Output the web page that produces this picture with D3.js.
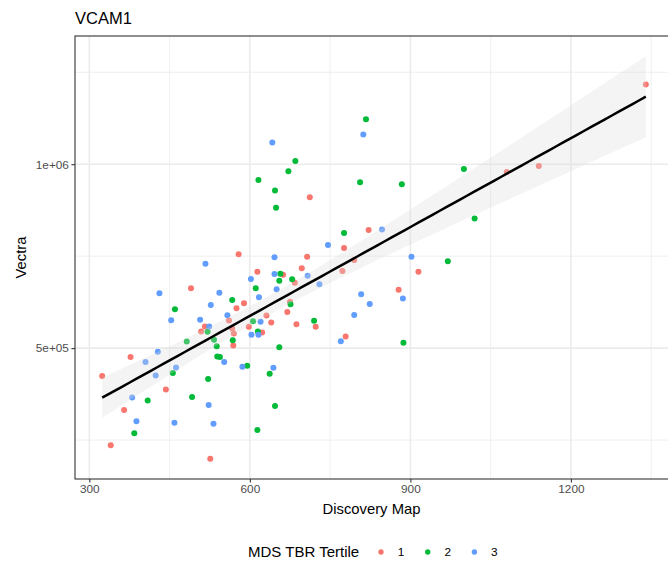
<!DOCTYPE html>
<html>
<head>
<meta charset="utf-8">
<script src="https://cdn.jsdelivr.net/npm/d3@7/dist/d3.min.js"></script>
<style>
	body { margin: 0; background: #fff; }
	text { font-family: "Liberation Sans", Arial, sans-serif; }
</style>
</head>
<body>
<div id="chart"></div>
<script>
// values: [Discovery Map, Vectra]
var tertile1 = [
	[1340, 1217000], [1140, 995000], [1080, 979000], [712, 910000], [822, 821000],
	[776, 772000], [579, 755000], [707, 748500], [915, 707800], [614, 707800],
	[662, 699700], [697, 717000], [684, 678000], [795, 739600], [773, 709700],
	[490, 662800], [878, 659000], [589, 622000], [675, 626400], [575, 608500],
	[670, 598500], [631, 588400], [561, 574900], [640, 569500], [687, 565100],
	[723, 557800], [516, 558600], [509, 545000], [598, 557800], [567, 553200],
	[570, 539600], [623, 542300], [779, 531500], [569, 507000], [377, 475600],
	[324, 424000], [443, 387700], [365, 331800], [340, 235800], [526, 198900]
];
var tertile2 = [
	[817, 1122100], [685, 1009000], [672, 981000], [616, 957400], [806, 951200],
	[647, 928700], [649, 881400], [776, 812800], [1000, 987300], [884, 945700],
	[1020, 852700], [970, 736000], [887, 514400], [657, 702400], [655, 683400],
	[679, 687200], [611, 662800], [567, 631000], [676, 619400], [460, 605800],
	[606, 573300], [720, 574100], [521, 544200], [615, 545000], [533, 522500],
	[568, 521700], [538, 505400], [655, 502700], [482, 517900], [539, 477200],
	[544, 475600], [595, 452000], [456, 432200], [637, 430300], [522, 415900],
	[409, 357800], [492, 367100], [647, 342600], [384, 268300], [614, 277500]
];
var tertile3 = [
	[812, 1080600], [642, 1058900], [746, 780300], [847, 822800], [902, 748500],
	[646, 746900], [517, 729500], [646, 701600], [708, 697000], [730, 673600],
	[602, 688000], [431, 649200], [543, 650800], [650, 660100], [617, 638400],
	[527, 617500], [558, 589500], [453, 576000], [507, 576800], [620, 571400],
	[524, 558600], [603, 536100], [616, 536100], [808, 646500], [824, 620200],
	[795, 590300], [770, 519000], [886, 634600], [428, 490000], [405, 462000],
	[552, 462000], [462, 447400], [586, 449300], [644, 446600], [424, 425700],
	[380, 366000], [523, 345400], [388, 300900], [459, 297300], [532, 294600]
];

var tertiles = ['1', '2', '3'];
var tertileColors = ['#F8766D', '#00BA38', '#619CFF'];

var xTicks = [300, 600, 900, 1200],
	xMinor = [450, 750, 1050, 1350],
	yTicks = [500000, 1000000],
	yMinor = [250000, 750000, 1250000];

var width = 668,
	height = 571,
	margin = {
		top: 36,
		right: -5,
		bottom: 92,
		left: 75
	};
var drawWidth = width - margin.left - margin.right,
	drawHeight = height - margin.top - margin.bottom;

var data = [];
[tertile1, tertile2, tertile3].forEach(function(arr, i) {
	arr.forEach(function(d) {
		data.push({x: d[0], y: d[1], tertile: tertiles[i]});
	});
});

// linear fit + 95% band, like geom_smooth(method = 'lm')
var n = data.length,
	xMean = d3.mean(data, (d) => d.x),
	yMean = d3.mean(data, (d) => d.y),
	sxx = d3.sum(data, (d) => (d.x - xMean) * (d.x - xMean)),
	sxy = d3.sum(data, (d) => (d.x - xMean) * (d.y - yMean));
var slope = sxy / sxx,
	intercept = yMean - slope * xMean;
var rss = d3.sum(data, (d) => Math.pow(d.y - intercept - slope * d.x, 2)),
	sigma = Math.sqrt(rss / (n - 2)),
	tCrit = 1.9803;

var xExtent = d3.extent(data, (d) => d.x);
var fit = d3.range(80).map(function(i) {
	var x = xExtent[0] + (xExtent[1] - xExtent[0]) * i / 79;
	var y = intercept + slope * x;
	var se = sigma * Math.sqrt(1 / n + (x - xMean) * (x - xMean) / sxx);
	return {x: x, y: y, lo: y - tCrit * se, hi: y + tCrit * se};
});

// ggplot style 5% expansion
var yLow = Math.min(d3.min(data, (d) => d.y), d3.min(fit, (d) => d.lo)),
	yHigh = Math.max(d3.max(data, (d) => d.y), d3.max(fit, (d) => d.hi));
var xPad = (xExtent[1] - xExtent[0]) * 0.05,
	yPad = (yHigh - yLow) * 0.05;

var xScale = d3.scaleLinear()
	.domain([xExtent[0] - xPad, xExtent[1] + xPad])
	.range([0, drawWidth]);
var yScale = d3.scaleLinear()
	.domain([yLow - yPad, yHigh + yPad])
	.range([drawHeight, 0]);
var colorScale = d3.scaleOrdinal().domain(tertiles).range(tertileColors);

var svg = d3.select('#chart').append('svg')
	.attr('width', width)
	.attr('height', height)
	.style('display', 'block');

svg.append('rect')
	.attr('width', width)
	.attr('height', height)
	.attr('fill', '#fff');

var g = svg.append('g')
	.attr('transform', 'translate(' + margin.left + ',' + margin.top + ')');

// grid
g.selectAll('.minor-x').data(xMinor).enter().append('line')
	.attr('x1', (d) => xScale(d)).attr('x2', (d) => xScale(d))
	.attr('y1', 0).attr('y2', drawHeight)
	.attr('stroke', '#EBEBEB').attr('stroke-width', 0.8);
g.selectAll('.minor-y').data(yMinor).enter().append('line')
	.attr('y1', (d) => yScale(d)).attr('y2', (d) => yScale(d))
	.attr('x1', 0).attr('x2', drawWidth)
	.attr('stroke', '#EBEBEB').attr('stroke-width', 0.8);
g.selectAll('.major-x').data(xTicks).enter().append('line')
	.attr('x1', (d) => xScale(d)).attr('x2', (d) => xScale(d))
	.attr('y1', 0).attr('y2', drawHeight)
	.attr('stroke', '#EBEBEB').attr('stroke-width', 1.6);
g.selectAll('.major-y').data(yTicks).enter().append('line')
	.attr('y1', (d) => yScale(d)).attr('y2', (d) => yScale(d))
	.attr('x1', 0).attr('x2', drawWidth)
	.attr('stroke', '#EBEBEB').attr('stroke-width', 1.6);

// points
g.selectAll('circle.pt').data(data).enter().append('circle')
	.attr('class', 'pt')
	.attr('cx', (d) => xScale(d.x))
	.attr('cy', (d) => yScale(d.y))
	.attr('r', 3)
	.attr('fill', (d) => colorScale(d.tertile));

// smooth
g.append('path')
	.datum(fit)
	.attr('d', d3.area().x((d) => xScale(d.x)).y0((d) => yScale(d.lo)).y1((d) => yScale(d.hi)))
	.attr('fill', '#d9d9d9')
	.attr('fill-opacity', 0.3);
g.append('path')
	.datum(fit)
	.attr('d', d3.line().x((d) => xScale(d.x)).y((d) => yScale(d.y)))
	.attr('fill', 'none')
	.attr('stroke', '#000')
	.attr('stroke-width', 2.5);

g.append('rect')
	.attr('width', drawWidth)
	.attr('height', drawHeight)
	.attr('fill', 'none')
	.attr('stroke', '#333')
	.attr('stroke-width', 1.1);

// axes
var sci = function(d) {
	return d3.format('.0e')(d).replace(/e([+-])(\d)$/, 'e$10$2');
};
var xAxis = d3.axisBottom(xScale).tickValues(xTicks).tickSize(3.6).tickPadding(2.5).tickFormat(d3.format('d'));
var yAxis = d3.axisLeft(yScale).tickValues(yTicks).tickSize(3.6).tickPadding(2.5).tickFormat(sci);

var xAxisG = g.append('g')
	.attr('transform', 'translate(0,' + drawHeight + ')')
	.call(xAxis);
var yAxisG = g.append('g').call(yAxis);

[xAxisG, yAxisG].forEach(function(ax) {
	ax.select('.domain').remove();
	ax.selectAll('line').attr('stroke', '#333').attr('stroke-width', 1.1);
	ax.selectAll('text')
		.attr('fill', '#4D4D4D')
		.style('font-size', '11.8px')
		.style('font-family', '"Liberation Sans", Arial, sans-serif');
});

// titles
svg.append('text')
	.attr('x', margin.left)
	.attr('y', 24)
	.attr('fill', '#000')
	.style('font-size', '16.5px')
	.text('VCAM1');

svg.append('text')
	.attr('x', margin.left + (width - 5 - margin.left) / 2 + 2.5)
	.attr('y', 514)
	.attr('text-anchor', 'middle')
	.attr('fill', '#000')
	.style('font-size', '14.8px')
	.text('Discovery Map');

svg.append('text')
	.attr('transform', 'translate(' + 26 + ',' + (margin.top + drawHeight / 2) + ') rotate(-90)')
	.attr('text-anchor', 'middle')
	.attr('fill', '#000')
	.style('font-size', '14.8px')
	.text('Vectra');

// legend
var legend = svg.append('g')
	.attr('transform', 'translate(248,552)');
legend.append('text')
	.attr('x', 0)
	.attr('y', 5)
	.attr('fill', '#000')
	.style('font-size', '15px')
	.text('MDS TBR Tertile');

var keys = legend.selectAll('.key').data(tertiles).enter().append('g')
	.attr('transform', (d, i) => 'translate(' + (133 + i * 46.7) + ',0)');
keys.append('circle')
	.attr('r', 2.7)
	.attr('fill', (d) => colorScale(d));
keys.append('text')
	.attr('x', 20)
	.attr('y', 4.3)
	.attr('text-anchor', 'middle')
	.attr('fill', '#000')
	.style('font-size', '11.8px')
	.text((d) => d);
</script>
</body>
</html>
